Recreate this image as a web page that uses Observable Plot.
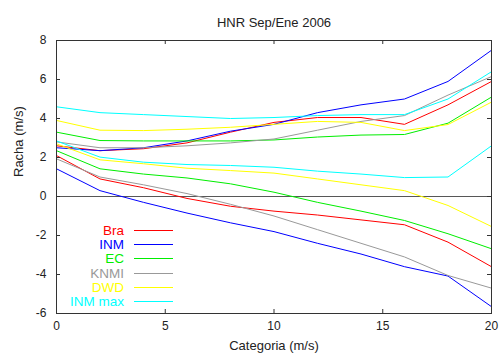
<!DOCTYPE html>
<html>
<head>
<meta charset="utf-8">
<script src="https://cdn.jsdelivr.net/npm/d3@7"></script>
<script src="https://cdn.jsdelivr.net/npm/@observablehq/plot@0.6"></script>
<style>
  html, body { margin: 0; padding: 0; background: #fff; }
  #chart svg { display: block; }
</style>
</head>
<body>
<div id="chart"></div>
<script>
const title = "HNR Sep/Ene 2006";
const xLabel = "Categoria (m/s)";
const yLabel = "Racha (m/s)";
const categories = [0, 2, 4, 6, 8, 10, 12, 14, 16, 18, 20];
const xTicks = [0, 5, 10, 15, 20];
const yTicks = [-6, -4, -2, 0, 2, 4, 6, 8];
const seriesNames = ["Bra", "INM", "EC", "KNMI", "DWD", "INM max"];
const seriesColors = ["#ff0000", "#0000ff", "#00ee00", "#999999", "#ffff00", "#00ffff"];

// upper and lower curves of each series
const braUpper    = [2.6, 2.35, 2.45, 2.75, 3.3, 3.8, 4.05, 4.05, 3.7, 4.7, 5.9];
const braLower    = [2.1, 0.9, 0.45, -0.1, -0.5, -0.75, -0.95, -1.2, -1.45, -2.34, -3.6];
const inmUpper    = [2.5, 2.35, 2.5, 2.85, 3.35, 3.7, 4.3, 4.7, 5.0, 5.9, 7.5];
const inmLower    = [1.42, 0.3, -0.3, -0.85, -1.35, -1.8, -2.4, -2.95, -3.6, -4.08, -5.65];
const ecUpper     = [3.3, 2.87, 2.85, 2.85, 2.85, 2.9, 3.05, 3.15, 3.18, 3.76, 5.1];
const ecLower     = [2.35, 1.42, 1.15, 0.95, 0.65, 0.22, -0.3, -0.75, -1.23, -1.91, -2.68];
const knmiUpper   = [2.8, 2.5, 2.5, 2.6, 2.75, 2.95, 3.4, 3.85, 4.15, 5.2, 6.15];
const knmiLower   = [1.93, 1.0, 0.6, 0.15, -0.4, -1.0, -1.7, -2.4, -3.1, -4.05, -4.7];
const dwdUpper    = [3.9, 3.4, 3.38, 3.45, 3.55, 3.7, 3.85, 3.8, 3.38, 3.69, 4.84];
const dwdLower    = [2.7, 1.88, 1.68, 1.45, 1.33, 1.2, 0.9, 0.6, 0.3, -0.46, -1.54];
const inmMaxUpper = [4.6, 4.3, 4.2, 4.1, 4.0, 4.05, 4.15, 4.2, 4.2, 5.0, 6.4];
const inmMaxLower = [2.85, 2.02, 1.76, 1.64, 1.59, 1.5, 1.3, 1.15, 0.97, 1.0, 2.6];

const curves = [
  ["Bra", "upper", braUpper], ["Bra", "lower", braLower],
  ["INM", "upper", inmUpper], ["INM", "lower", inmLower],
  ["EC", "upper", ecUpper], ["EC", "lower", ecLower],
  ["KNMI", "upper", knmiUpper], ["KNMI", "lower", knmiLower],
  ["DWD", "upper", dwdUpper], ["DWD", "lower", dwdLower],
  ["INM max", "upper", inmMaxUpper], ["INM max", "lower", inmMaxLower]
];
const rows = curves.flatMap(([series, bound, vals]) =>
  vals.map((v, i) => ({series, bound, key: series + "-" + bound, x: categories[i], y: v})));

const W = 499, H = 356;
const mL = 56, mR = 8, mT = 40, mB = 43;
const fw = W - mL - mR, fh = H - mT - mB;
const font = "Liberation Sans, Arial, sans-serif";
const fmt = d => String(d);

const plot = Plot.plot({
  width: W, height: H,
  marginLeft: mL, marginRight: mR, marginTop: mT, marginBottom: mB,
  style: {fontFamily: font, fontSize: "12px", background: "#fff", color: "#222"},
  x: {domain: [0, 20]},
  y: {domain: [-6, 8]},
  color: {domain: seriesNames, range: seriesColors},
  marks: [
    Plot.ruleY([0], {stroke: "#444", strokeWidth: 0.9}),
    Plot.line(rows, {x: "x", y: "y", z: "key", stroke: "series", strokeWidth: 1}),
    Plot.axisX(xTicks, {tickSize: 0, tickPadding: 8, tickFormat: fmt, fontSize: 12, label: null}),
    Plot.axisY(yTicks, {tickSize: 0, tickPadding: 10, tickFormat: fmt, fontSize: 12, label: null}),
    Plot.tickX(xTicks, {x: d => d, stroke: "#333", insetTop: fh - 4}),
    Plot.tickX(xTicks, {x: d => d, stroke: "#333", insetBottom: fh - 4}),
    Plot.tickY(yTicks, {y: d => d, stroke: "#333", insetLeft: fw - 4}),
    Plot.tickY(yTicks, {y: d => d, stroke: "#333", insetRight: fw - 4}),
    Plot.frame({stroke: "#333", strokeWidth: 1}),
    Plot.text([title], {text: d => d, frameAnchor: "top", dy: -23, fontSize: 13, fill: "#222"}),
    Plot.text([xLabel], {text: d => d, frameAnchor: "bottom", dy: 36, fontSize: 13, fill: "#222"}),
    Plot.text([yLabel], {text: d => d, frameAnchor: "left", dx: -38, rotate: -90, fontSize: 13, fill: "#222"})
  ]
});

// legend inside the frame, lower-left
const svg = d3.select(plot);
const lg = svg.append("g").attr("font-family", font).attr("font-size", 13.5);
seriesNames.forEach((name, i) => {
  const cy = Math.round(230 + i * 14.2) + 0.5;
  lg.append("text").attr("x", 124).attr("y", cy).attr("dy", "0.35em")
    .attr("text-anchor", "end").attr("fill", seriesColors[i]).text(name);
  lg.append("line").attr("x1", 134).attr("x2", 173).attr("y1", cy).attr("y2", cy)
    .attr("stroke", seriesColors[i]).attr("stroke-width", 1.2);
});

document.getElementById("chart").appendChild(plot);
</script>
</body>
</html>
